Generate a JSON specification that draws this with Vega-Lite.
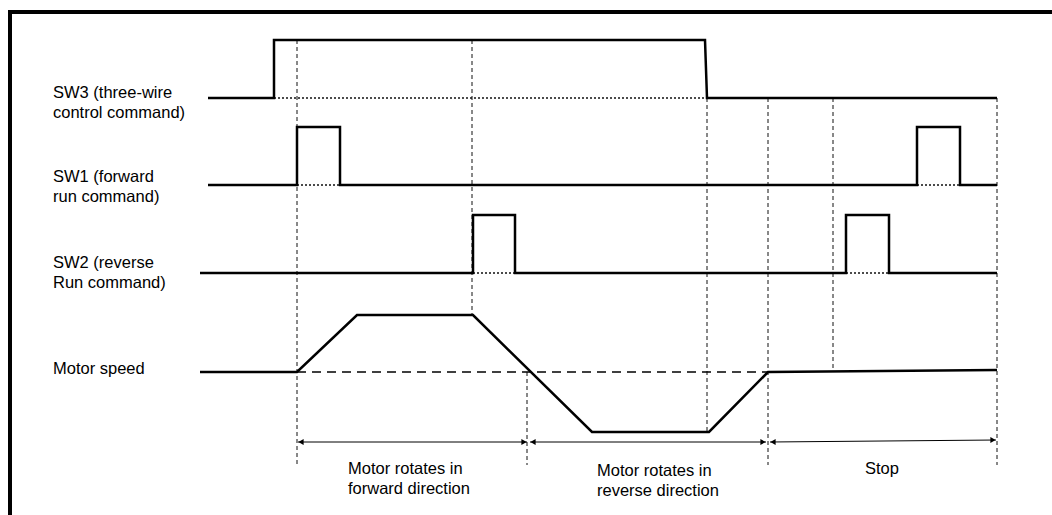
{
  "$schema": "https://vega.github.io/schema/vega-lite/v6.json",
  "width": 1052,
  "height": 515,
  "autosize": {"type": "none"},
  "padding": 0,
  "background": "white",
  "config": {"view": {"stroke": null}, "axis": {"disable": true}},
  "datasets": {
    "frame": [
      {"x": 8, "x2": 1052, "y": 12, "y2": 12},
      {"x": 10, "x2": 10, "y": 10, "y2": 515}
    ],
    "signals": [
      {"id": "SW3", "o": 1, "x": 208, "y": 98},
      {"id": "SW3", "o": 2, "x": 274, "y": 98},
      {"id": "SW3", "o": 3, "x": 274, "y": 40},
      {"id": "SW3", "o": 4, "x": 705, "y": 40},
      {"id": "SW3", "o": 5, "x": 707, "y": 98},
      {"id": "SW3", "o": 6, "x": 997, "y": 98},
      {"id": "SW1", "o": 1, "x": 208, "y": 185},
      {"id": "SW1", "o": 2, "x": 297, "y": 185},
      {"id": "SW1", "o": 3, "x": 297, "y": 127},
      {"id": "SW1", "o": 4, "x": 340, "y": 127},
      {"id": "SW1", "o": 5, "x": 340, "y": 185},
      {"id": "SW1", "o": 6, "x": 917, "y": 185},
      {"id": "SW1", "o": 7, "x": 917, "y": 127},
      {"id": "SW1", "o": 8, "x": 960, "y": 127},
      {"id": "SW1", "o": 9, "x": 960, "y": 185},
      {"id": "SW1", "o": 10, "x": 997, "y": 185},
      {"id": "SW2", "o": 1, "x": 200, "y": 273},
      {"id": "SW2", "o": 2, "x": 473, "y": 273},
      {"id": "SW2", "o": 3, "x": 473, "y": 215},
      {"id": "SW2", "o": 4, "x": 515, "y": 215},
      {"id": "SW2", "o": 5, "x": 515, "y": 273},
      {"id": "SW2", "o": 6, "x": 846, "y": 273},
      {"id": "SW2", "o": 7, "x": 846, "y": 215},
      {"id": "SW2", "o": 8, "x": 889, "y": 215},
      {"id": "SW2", "o": 9, "x": 889, "y": 273},
      {"id": "SW2", "o": 10, "x": 997, "y": 273},
      {"id": "Motor", "o": 1, "x": 200, "y": 372},
      {"id": "Motor", "o": 2, "x": 297, "y": 372},
      {"id": "Motor", "o": 3, "x": 357, "y": 315},
      {"id": "Motor", "o": 4, "x": 473, "y": 315},
      {"id": "Motor", "o": 5, "x": 592, "y": 432},
      {"id": "Motor", "o": 6, "x": 709, "y": 432},
      {"id": "Motor", "o": 7, "x": 768, "y": 372},
      {"id": "Motor", "o": 8, "x": 997, "y": 370}
    ],
    "dotted": [
      {"x": 274, "x2": 705, "y": 98},
      {"x": 297, "x2": 340, "y": 185},
      {"x": 917, "x2": 960, "y": 185},
      {"x": 473, "x2": 515, "y": 273},
      {"x": 846, "x2": 889, "y": 273}
    ],
    "dashedH": [
      {"x": 297, "x2": 768, "y": 372}
    ],
    "vlines": [
      {"x": 297, "y": 40, "y2": 465},
      {"x": 472, "y": 40, "y2": 315},
      {"x": 527, "y": 372, "y2": 465},
      {"x": 707, "y": 98, "y2": 432},
      {"x": 768, "y": 98, "y2": 465},
      {"x": 833, "y": 98, "y2": 372},
      {"x": 997, "y": 98, "y2": 465}
    ],
    "arrows": [
      {"x": 298, "x2": 527, "y": 442, "y2": 442},
      {"x": 530, "x2": 766, "y": 442, "y2": 442},
      {"x": 770, "x2": 996, "y": 442, "y2": 440}
    ],
    "heads": [
      {"x": 301, "y": 442, "dir": "L"},
      {"x": 524, "y": 442, "dir": "R"},
      {"x": 533, "y": 442, "dir": "L"},
      {"x": 763, "y": 442, "dir": "R"},
      {"x": 773, "y": 442, "dir": "L"},
      {"x": 993, "y": 440, "dir": "R"}
    ],
    "labels": [
      {"t": "SW3 (three-wire", "x": 53, "y": 98},
      {"t": "control command)", "x": 53, "y": 118},
      {"t": "SW1 (forward", "x": 53, "y": 182},
      {"t": "run command)", "x": 53, "y": 202},
      {"t": "SW2 (reverse", "x": 53, "y": 268},
      {"t": "Run command)", "x": 53, "y": 288},
      {"t": "Motor speed", "x": 53, "y": 374},
      {"t": "Motor rotates in", "x": 348, "y": 474},
      {"t": "forward direction", "x": 348, "y": 494},
      {"t": "Motor rotates in", "x": 597, "y": 476},
      {"t": "reverse direction", "x": 597, "y": 496}
    ],
    "clabels": [
      {"t": "Stop", "x": 882, "y": 474}
    ]
  },
  "layer": [
    {
      "data": {"name": "frame"},
      "mark": {"type": "rule", "color": "black", "strokeWidth": 4},
      "encoding": {
        "x": {"field": "x", "type": "quantitative", "scale": {"domain": [0, 1052], "nice": false, "zero": false}, "axis": null},
        "x2": {"field": "x2"},
        "y": {"field": "y", "type": "quantitative", "scale": {"domain": [515, 0], "nice": false, "zero": false}, "axis": null},
        "y2": {"field": "y2"}
      }
    },
    {
      "data": {"name": "vlines"},
      "mark": {"type": "rule", "color": "#111", "strokeWidth": 1, "strokeDash": [4, 3]},
      "encoding": {
        "x": {"field": "x", "type": "quantitative"},
        "y": {"field": "y", "type": "quantitative"},
        "y2": {"field": "y2"}
      }
    },
    {
      "data": {"name": "dotted"},
      "mark": {"type": "rule", "color": "#111", "strokeWidth": 1.5, "strokeDash": [2, 2]},
      "encoding": {
        "x": {"field": "x", "type": "quantitative"},
        "x2": {"field": "x2"},
        "y": {"field": "y", "type": "quantitative"}
      }
    },
    {
      "data": {"name": "dashedH"},
      "mark": {"type": "rule", "color": "black", "strokeWidth": 1.5, "strokeDash": [9, 6]},
      "encoding": {
        "x": {"field": "x", "type": "quantitative"},
        "x2": {"field": "x2"},
        "y": {"field": "y", "type": "quantitative"}
      }
    },
    {
      "data": {"name": "signals"},
      "mark": {"type": "line", "color": "black", "strokeWidth": 2.5, "strokeJoin": "miter", "strokeCap": "butt"},
      "encoding": {
        "x": {"field": "x", "type": "quantitative"},
        "y": {"field": "y", "type": "quantitative"},
        "detail": {"field": "id"},
        "order": {"field": "o", "type": "quantitative"}
      }
    },
    {
      "data": {"name": "arrows"},
      "mark": {"type": "rule", "color": "black", "strokeWidth": 1},
      "encoding": {
        "x": {"field": "x", "type": "quantitative"},
        "x2": {"field": "x2"},
        "y": {"field": "y", "type": "quantitative"},
        "y2": {"field": "y2"}
      }
    },
    {
      "data": {"name": "heads"},
      "transform": [{"filter": "datum.dir == 'L'"}],
      "mark": {"type": "point", "shape": "triangle-left", "filled": true, "color": "black", "size": 36, "opacity": 1},
      "encoding": {
        "x": {"field": "x", "type": "quantitative"},
        "y": {"field": "y", "type": "quantitative"}
      }
    },
    {
      "data": {"name": "heads"},
      "transform": [{"filter": "datum.dir == 'R'"}],
      "mark": {"type": "point", "shape": "triangle-right", "filled": true, "color": "black", "size": 36, "opacity": 1},
      "encoding": {
        "x": {"field": "x", "type": "quantitative"},
        "y": {"field": "y", "type": "quantitative"}
      }
    },
    {
      "data": {"name": "labels"},
      "mark": {"type": "text", "font": "Liberation Sans", "fontSize": 16.5, "color": "black", "baseline": "alphabetic", "align": "left"},
      "encoding": {
        "x": {"field": "x", "type": "quantitative"},
        "y": {"field": "y", "type": "quantitative"},
        "text": {"field": "t"}
      }
    },
    {
      "data": {"name": "clabels"},
      "mark": {"type": "text", "font": "Liberation Sans", "fontSize": 16.5, "color": "black", "baseline": "alphabetic", "align": "center"},
      "encoding": {
        "x": {"field": "x", "type": "quantitative"},
        "y": {"field": "y", "type": "quantitative"},
        "text": {"field": "t"}
      }
    }
  ]
}
